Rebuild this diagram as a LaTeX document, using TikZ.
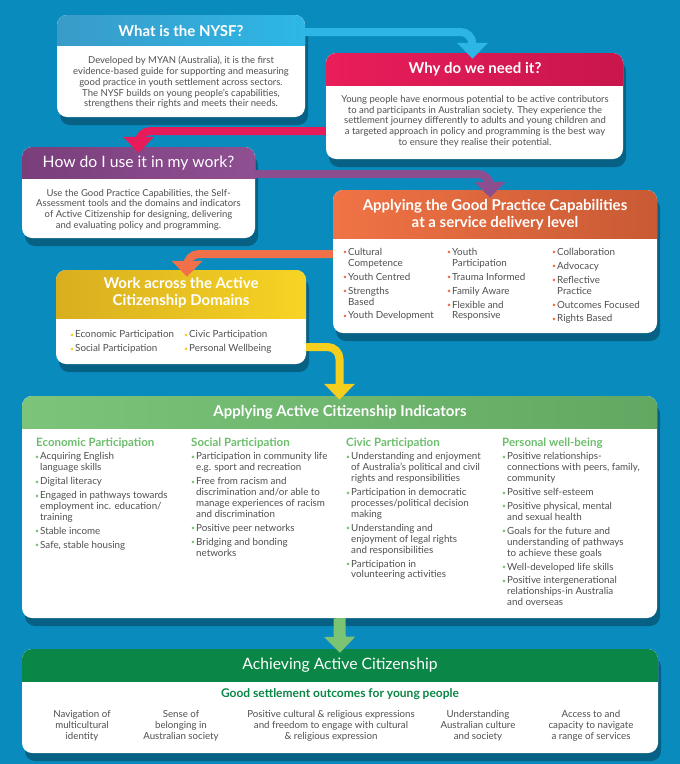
\documentclass[tikz,border=0pt]{standalone}
\usepackage{fontspec}
\setmainfont{Lato}
\usepackage{tikz}
\usetikzlibrary{arrows.meta,positioning,shadows}
\definecolor{bgblue}  {RGB}{ 10,139,190}
\definecolor{txtgray} {RGB}{ 80, 80, 82}
\definecolor{whatl}   {RGB}{ 58,155,200}
\definecolor{whatr}   {RGB}{ 45,183,230}
\definecolor{whyl}    {RGB}{233, 29, 90}
\definecolor{whyr}    {RGB}{200, 22, 76}
\definecolor{howl}    {RGB}{122, 62,124}
\definecolor{howr}    {RGB}{143, 80,146}
\definecolor{capl}    {RGB}{240,115, 69}
\definecolor{capr}    {RGB}{200, 90, 52}
\definecolor{doml}    {RGB}{216,174, 31}
\definecolor{domr}    {RGB}{247,212, 36}
\definecolor{indl}    {RGB}{124,196,122}
\definecolor{indr}    {RGB}{ 98,168, 98}
\definecolor{achgreen}{RGB}{ 10,134, 70}
\definecolor{whatc}   {RGB}{ 45,181,229}
\definecolor{whyc}    {RGB}{232, 27, 90}
\definecolor{howc}    {RGB}{141, 78,144}
\definecolor{capc}    {RGB}{240,112, 74}
\definecolor{domc}    {RGB}{246,207, 30}
\definecolor{indc}    {RGB}{122,196,116}
\definecolor{indhd}   {RGB}{108,189,108}
\newcommand\bl[1]{\makebox[5pt][l]{\textcolor{#1}{\raisebox{0.6pt}{\scalebox{0.7}{\textbullet}}}}}
\newcommand\ind{\hspace*{5pt}}
\tikzset{
  panel/.style n args={3}{fill=white,rounded corners=10pt,inner sep=0pt,
              drop shadow={shadow xshift=3pt,shadow yshift=-8pt,
              opacity=0.3,fill=black},
              path picture={\shade[sharp corners,left color=#1,right color=#2]
                (path picture bounding box.north west) rectangle
                ([yshift=-#3]path picture bounding box.north east);}},
  hdtxt/.style={text=white,font=\fontsize{15}{17}\selectfont\bfseries,
              align=center,inner sep=0pt},
  hdlight/.style={hdtxt,font=\fontsize{15.7}{17}\selectfont},
  bodytxt/.style={text=txtgray,font=\fontsize{9.5}{10.75}\selectfont,
              align=center,inner sep=0pt},
  list/.style={text=txtgray,font=\fontsize{9.8}{10.9}\selectfont,
              align=left,inner sep=0pt,anchor=north west},
  colhd/.style={text=indhd,font=\fontsize{11.5}{12}\selectfont\bfseries,
              inner sep=0pt,anchor=west},
  conn/.style={line width=8pt,rounded corners=12pt,
              -{Triangle[width=30pt,length=16pt]}},
}

\begin{document}
\begin{tikzpicture}[x=1pt,y=-1pt]
  \useasboundingbox (0,0) rectangle (680,764);
  \fill[bgblue] (0,0) rectangle (680,764);

  % panels
  \node[panel={whatl}{whatr}{30pt},minimum width=248pt,minimum height=102pt] (whatbox) at (181,66) {};
  \node[panel={whyl}{whyr}{32pt},minimum width=297pt,minimum height=106pt] (whybox) at (474.5,106) {};
  \node[panel={howl}{howr}{31pt},minimum width=233pt,minimum height=91pt] (howbox) at (138.5,192.5) {};
  \node[panel={capl}{capr}{48pt},minimum width=324pt,minimum height=143pt] (capbox) at (495,261.5) {};
  \node[panel={doml}{domr}{48pt},minimum width=250pt,minimum height=94pt] (domainbox) at (181,317) {};
  \node[panel={indl}{indr}{32pt},minimum width=635pt,minimum height=222pt] (indbox) at (339.5,507) {};
  \node[panel={achgreen}{achgreen}{32pt},minimum width=636pt,minimum height=104pt] (achbox) at (340,701) {};

  % titles
  \node[hdtxt] (whattitle) at (181,30.5) {What is the NYSF?};
  \node[hdtxt] (whytitle) at (475,69.5) {Why do we need it?};
  \node[hdlight] (howtitle) at (138.5,163) {How do I use it in my work?};
  \node[hdtxt] (captitle) at (495,215) {Applying the Good Practice Capabilities\\at a service delivery level};
  \node[hdtxt] (domaintitle) at (181,293) {Work across the Active\\Citizenship Domains};
  \node[hdtxt] (indtitle) at (340,412.5) {Applying Active Citizenship Indicators};
  \node[hdlight] (achtitle) at (340,665) {Achieving Active Citizenship};

  % texts
  \node[bodytxt] (whattext) at (181,82.5) {Developed by MYAN (Australia), it is the first\\
    evidence-based guide for supporting and measuring\\
    good practice in youth settlement across sectors.\\
    The NYSF builds on young people’s capabilities,\\
    strengthens their rights and meets their needs.};
  \node[bodytxt] (whytext) at (475,121.3) {Young people have enormous potential to be active contributors\\
    to and participants in Australian society. They experience the\\
    settlement journey differently to adults and young children and\\
    a targeted approach in policy and programming is the best way\\
    to ensure they realise their potential.};
  \node[bodytxt] (howtext) at (138.5,209.5) {Use the Good Practice Capabilities, the Self-\\
    Assessment tools and the domains and indicators\\
    of Active Citizenship for designing, delivering\\
    and evaluating policy and programming.};

  \node[list] (capcola) at (343,248) {\bl{capc}Cultural\\\ind Competence\\[3pt]
    \bl{capc}Youth Centred\\[3pt]\bl{capc}Strengths\\\ind Based\\[3pt]
    \bl{capc}Youth Development};
  \node[list] (capcolb) at (447,248) {\bl{capc}Youth\\\ind Participation\\[3pt]
    \bl{capc}Trauma Informed\\[3pt]\bl{capc}Family Aware\\[3pt]
    \bl{capc}Flexible and\\\ind Responsive};
  \node[list] (capcolc) at (552,248) {\bl{capc}Collaboration\\[3pt]
    \bl{capc}Advocacy\\[3pt]\bl{capc}Reflective\\\ind Practice\\[3pt]
    \bl{capc}Outcomes Focused\\[3pt]\bl{capc}Rights Based};

  \node[list] (domcola) at (70,330.5) {\bl{domc}Economic Participation\\[3pt]
    \bl{domc}Social Participation};
  \node[list] (domcolb) at (184,330.5) {\bl{domc}Civic Participation\\[3pt]
    \bl{domc}Personal Wellbeing};

  \node[colhd] (econhd) at (36,443) {Economic Participation};
  \node[colhd] (sochd) at (191,443) {Social Participation};
  \node[colhd] (civhd) at (346,443) {Civic Participation};
  \node[colhd] (perhd) at (502,443) {Personal well-being};

  \node[list] (econlist) at (35,452.5) {\bl{indc}Acquiring English\\\ind language skills\\[3pt]
    \bl{indc}Digital literacy\\[3pt]
    \bl{indc}Engaged in pathways towards\\\ind employment inc. education/\\\ind training\\[3pt]
    \bl{indc}Stable income\\[3pt]
    \bl{indc}Safe, stable housing};
  \node[list] (soclist) at (191,452.5) {\bl{indc}Participation in community life\\\ind e.g. sport and recreation\\[3pt]
    \bl{indc}Free from racism and\\\ind discrimination and/or able to\\\ind manage experiences of racism\\\ind and discrimination\\[3pt]
    \bl{indc}Positive peer networks\\[3pt]
    \bl{indc}Bridging and bonding\\\ind networks};
  \node[list] (civlist) at (346,452.5) {\bl{indc}Understanding and enjoyment\\\ind of Australia’s political and civil\\\ind rights and responsibilities\\[3pt]
    \bl{indc}Participation in democratic\\\ind processes/political decision\\\ind making\\[3pt]
    \bl{indc}Understanding and\\\ind enjoyment of legal rights\\\ind and responsibilities\\[3pt]
    \bl{indc}Participation in\\\ind volunteering activities};
  \node[list] (perlist) at (502,452.5) {\bl{indc}Positive relationships-\\\ind connections with peers, family,\\\ind community\\[3pt]
    \bl{indc}Positive self-esteem\\[3pt]
    \bl{indc}Positive physical, mental\\\ind and sexual health\\[3pt]
    \bl{indc}Goals for the future and\\\ind understanding of pathways\\\ind to achieve these goals\\[3pt]
    \bl{indc}Well-developed life skills\\[3pt]
    \bl{indc}Positive intergenerational\\\ind relationships-in Australia\\\ind and overseas};

  \node[text=achgreen,font=\fontsize{12}{13}\selectfont\bfseries,inner sep=0pt] (achsub) at (340,694) {Good settlement outcomes for young people};
  \node[bodytxt,font=\fontsize{9.7}{11}\selectfont] (acha) at (82,725.5) {Navigation of\\multicultural\\identity};
  \node[bodytxt,font=\fontsize{9.7}{11}\selectfont] (achb) at (181,725.5) {Sense of\\belonging in\\Australian society};
  \node[bodytxt,font=\fontsize{9.7}{11}\selectfont] (achc) at (331,725.5) {Positive cultural \& religious expressions\\and freedom to engage with cultural\\\& religious expression};
  \node[bodytxt,font=\fontsize{9.7}{11}\selectfont] (achd) at (478,725.5) {Understanding\\Australian culture\\and society};
  \node[bodytxt,font=\fontsize{9.7}{11}\selectfont] (ache) at (591,725.5) {Access to and\\capacity to navigate\\a range of services};

  % connectors
  \draw[conn,whatc] ([yshift=34pt]whatbox.east) -| ([xshift=-2pt,yshift=-6pt]whybox.north);
  \draw[conn,whyc] ([yshift=-25pt]whybox.west) -| ([yshift=-6pt]howbox.north);
  \draw[conn,howc] ([yshift=18.5pt]howbox.east) -| ([xshift=-5pt,yshift=-8pt]capbox.north);
  \draw[conn,capc] ([yshift=7.5pt]capbox.west) -| ([xshift=6pt,yshift=-7pt]domainbox.north);
  \draw[conn,domc] ([yshift=-30pt]domainbox.east) -| ([yshift=-4pt]indbox.north);
  \draw[indc,line width=12pt,-{Triangle[width=30pt,length=16pt]}] (indbox.south) -- ([yshift=-4pt]achbox.north);
\end{tikzpicture}
\end{document}
